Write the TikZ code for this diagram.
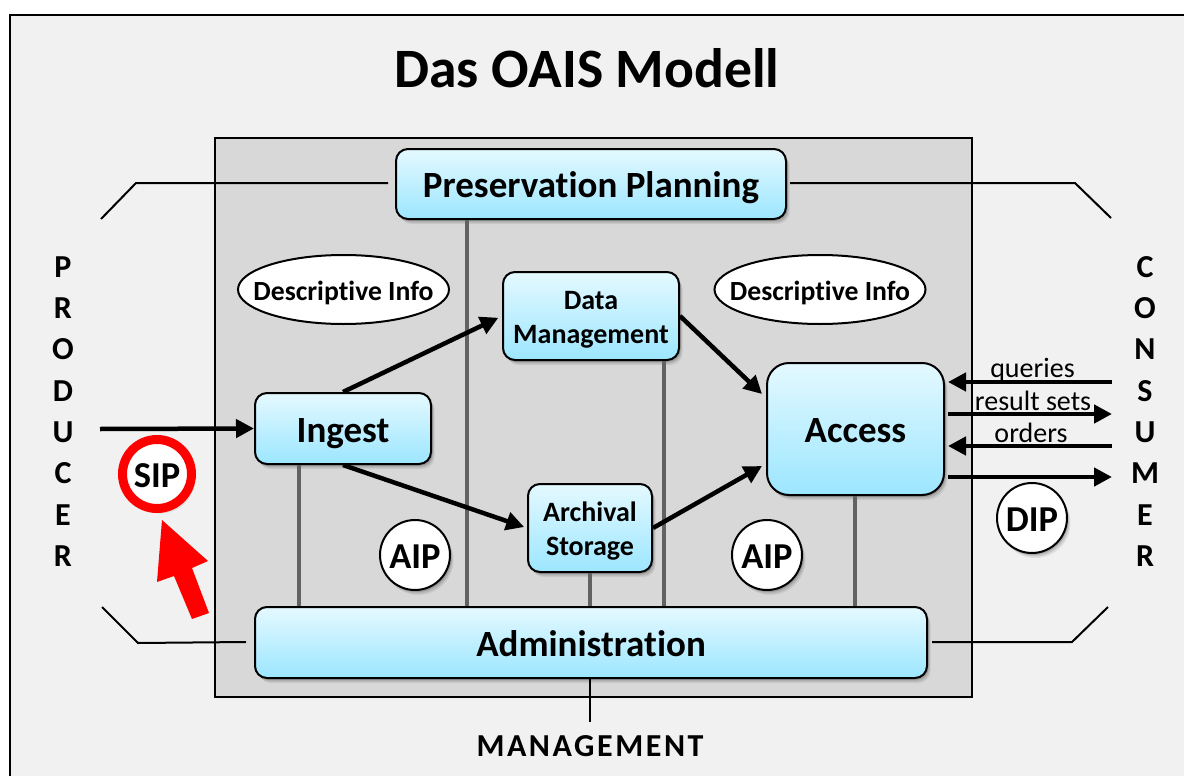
\documentclass[tikz,border=0pt]{standalone}
\usepackage{fontspec}
\setmainfont[Ligatures=CommonOff]{Carlito}
\usetikzlibrary{arrows.meta,shadows,calc,shapes.geometric}
\definecolor{framebg}{HTML}{F1F1F1}
\definecolor{innerbg}{HTML}{D8D8D8}
\definecolor{boxtop}{HTML}{E4F9FF}
\definecolor{boxbot}{HTML}{9CE6FF}
\definecolor{vline}{HTML}{626262}
\tikzset{
 softshadow/.style={
   preaction={draw=none,fill=black,opacity=.07,transform canvas={xshift=3.5pt,yshift=-5pt}},
   preaction={draw=none,fill=black,opacity=.10,transform canvas={xshift=2.5pt,yshift=-3.5pt}},
   preaction={draw=none,fill=black,opacity=.14,transform canvas={xshift=1.5pt,yshift=-2pt}}},
 bluebox/.style={draw=black,line width=2pt,rounded corners=12pt,top color=boxtop,bottom color=boxbot,
   softshadow,align=center,inner sep=0pt,text=black},
 bigbox/.style={bluebox,font=\fontsize{37}{37}\selectfont\bfseries,text height=27pt,text depth=0pt},
 twoline/.style={bluebox,font=\fontsize{28}{28}\selectfont\bfseries},
 bubble/.style={circle,draw=black,line width=2pt,fill=white,softshadow,inner sep=0pt,minimum size=70pt,
   font=\fontsize{36.5}{37}\selectfont\bfseries,text height=26pt,text depth=0pt},
 infoell/.style={ellipse,draw=black,line width=2pt,fill=white,inner xsep=-16pt,inner ysep=0pt,
   minimum width=211pt,minimum height=69pt,font=\fontsize{27.7}{28}\selectfont\bfseries,text height=21pt,text depth=0pt},
 flowarrow/.style={line width=4.5pt,-{Triangle[length=18pt,width=18pt]}},
 link/.style={line width=4pt,vline},
 thinline/.style={line width=2pt,black},
 letter/.style={font=\fontsize{32}{32}\selectfont\bfseries,inner sep=0pt},
 small/.style={font=\fontsize{28}{28}\selectfont,inner sep=0pt},
}
\begin{document}
\begin{tikzpicture}[x=1pt,y=-1pt]
\useasboundingbox (0,0) rectangle (1184,776);
\fill[white] (0,0) rectangle (1184,776);
\fill[framebg,draw=black,line width=2.5pt] (10,15) rectangle (1200,800);
\node[font=\fontsize{55.6}{56}\selectfont\bfseries,inner sep=0pt] (title) at (587,68) {Das OAIS Modell};
\node[draw=black,line width=2.5pt,fill=innerbg,minimum width=757pt,minimum height=559pt,inner sep=0pt] (oais) at (593.5,417.5) {};

\coordinate (tl1) at (101,219); \coordinate (tl2) at (136,183); \coordinate (tl3) at (388,183);
\coordinate (tr1) at (790,183); \coordinate (tr2) at (1075,183); \coordinate (tr3) at (1111,218);
\coordinate (bl1) at (102,607); \coordinate (bl2) at (138,643); \coordinate (bl3) at (246,642);
\coordinate (br1) at (932,642); \coordinate (br2) at (1072,642); \coordinate (br3) at (1108,607);
\coordinate (mg) at (590,722);
\coordinate (pin) at (100,429);
\coordinate (q) at (1112,382); \coordinate (r) at (1112,414); \coordinate (o) at (1112,446); \coordinate (d) at (1112,477);
\coordinate (as1) at (948,382); \coordinate (as2) at (948,414); \coordinate (as3) at (948,446); \coordinate (as4) at (948,477);
\coordinate (a1) at (762,394); \coordinate (a2) at (762,466);
\coordinate (x1) at (299,0); \coordinate (x2) at (467,0); \coordinate (x3) at (664,0); \coordinate (x4) at (590,0); \coordinate (x5) at (855,0);

\draw[thinline] (tl1)--(tl2)--(tl3);
\draw[thinline] (tr1)--(tr2)--(tr3);
\draw[thinline] (bl1)--(bl2)--(bl3);
\draw[thinline] (br1)--(br2)--(br3);

\node[bigbox,minimum width=390pt,minimum height=70pt] (pp) at (591,184) {Preservation Planning};
\node[bigbox,minimum width=176pt,minimum height=71pt] (ingest) at (343,428.5) {Ingest};
\node[twoline,minimum width=176pt,minimum height=88pt] (dm) at (591,316) {\rule{0pt}{26pt}Data\\[6pt]Management};
\node[twoline,minimum width=124pt,minimum height=88pt] (as) at (590,528) {\rule{0pt}{26pt}Archival\\[6pt]Storage};
\node[bigbox,rounded corners=22pt,minimum width=177pt,minimum height=132pt] (access) at (855.5,429) {Access};
\node[bigbox,minimum width=672pt,minimum height=71pt] (admin) at (591,642.5) {Administration};

\draw[link] (ingest.south -| x1)--(admin.north -| x1);
\draw[link] (pp.south -| x2)--(admin.north -| x2);
\draw[link] (dm.south -| x3)--(admin.north -| x3);
\draw[link] (as.south -| x4)--(admin.north -| x4);
\draw[link] (access.south -| x5)--(admin.north -| x5);
\draw[thinline] (admin.south -| mg)--(mg);

\node[infoell] (e1) at (343.5,289.5) {Descriptive Info};
\node[infoell] (e2) at (820,289.5) {Descriptive Info};
\node[bubble] (aip1) at (415,555) {AIP};
\node[bubble] (aip2) at (767,555) {AIP};
\node[bubble] (dip) at (1032,518) {DIP};
\node[bubble,draw=red,line width=9pt,minimum size=69pt] (sip) at (157,474) {SIP};

\draw[flowarrow] (pin)--(ingest.west);
\draw[flowarrow,shorten >=4pt] (ingest.north)--(dm.west);
\draw[flowarrow,shorten >=3pt] (ingest.south)--(as.west);
\draw[flowarrow] (dm.east)--(a1);
\draw[flowarrow] (as.east)--(a2);
\draw[flowarrow] (q)--(as1);
\draw[flowarrow] (as2)--(r);
\draw[flowarrow] (o)--(as3);
\draw[flowarrow] (as4)--(d);

\node[small] (t1) at (1032.5,370) {queries};
\node[small] (t2) at (1033,401) {result sets};
\node[small] (t3) at (1031,433) {orders};

\fill[red] (162,520)--(208,561)--(192,568)--(209,613)--(192,619)--(174,576)--(157,582)--cycle;

\foreach \ch [count=\i from 0] in {P,R,O,D,U,C,E,R} \node[letter] (p\i) at (63,{267+41.3*\i}) {\ch};
\foreach \ch [count=\i from 0] in {C,O,N,S,U,M,E,R} \node[letter] (c\i) at (1145,{267+41.3*\i}) {\ch};
\node[font=\fontsize{32}{32}\selectfont\bfseries,inner sep=0pt] (mgt) at (590,746) {\addfontfeatures{LetterSpace=8}MANAGEMENT};
\end{tikzpicture}
\end{document}
